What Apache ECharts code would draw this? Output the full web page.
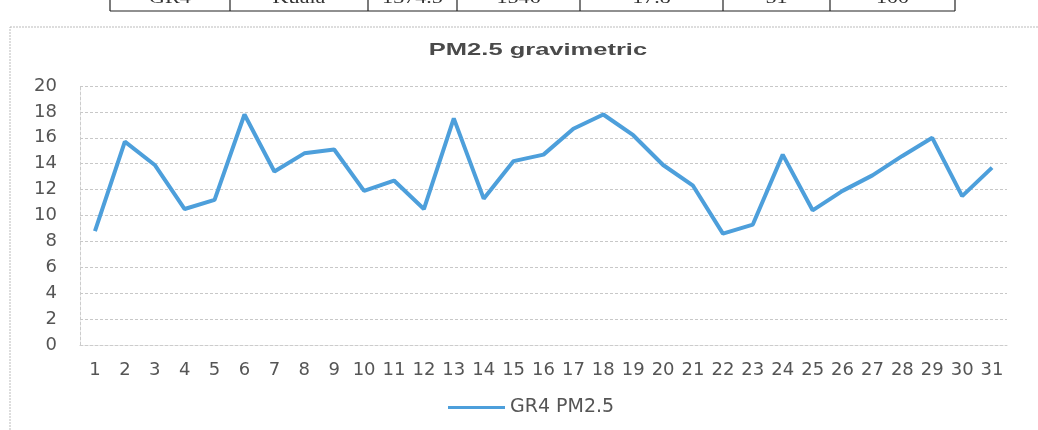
<!DOCTYPE html>
<html>
<head>
<meta charset="utf-8">
<script src="https://cdn.jsdelivr.net/npm/echarts@6/dist/echarts.min.js"></script>
<style>
  html, body { margin: 0; padding: 0; background: #fff; }
  #chart { width: 1038px; height: 430px; }
</style>
</head>
<body>
<div id="chart"></div>
<script>
// days of the month
const days = ['1', '2', '3', '4', '5', '6', '7', '8', '9', '10', '11', '12', '13', '14', '15', '16',
  '17', '18', '19', '20', '21', '22', '23', '24', '25', '26', '27', '28', '29', '30', '31']
// GR4 PM2.5 gravimetric values
const gr4 = [8.8, 15.7, 13.9, 10.5, 11.2, 17.8, 13.4, 14.8, 15.1, 11.9, 12.7, 10.5, 17.5, 11.3, 14.2, 14.7,
  16.7, 17.8, 16.2, 13.9, 12.3, 8.6, 9.3, 14.7, 10.4, 11.9, 13.1, 14.6, 16.0, 11.5, 13.7]
// cut-off table row above the chart
const tableCells = ['GR4', 'Kuala', '1374.5', '1546', '17.8', '51', '100']
const tableEdges = [110, 230, 368, 457, 580, 723, 830, 955]

const myChart = echarts.init(document.getElementById('chart'))

const tableGraphics = []
tableEdges.forEach(x => {
  tableGraphics.push({
    type: 'line',
    shape: { x1: x, y1: 0, x2: x, y2: 11 },
    style: { stroke: '#222', lineWidth: 1.2 }
  })
})
tableGraphics.push({
  type: 'line',
  shape: { x1: tableEdges[0], y1: 11, x2: tableEdges[tableEdges.length - 1], y2: 11 },
  style: { stroke: '#222', lineWidth: 1.2 }
})
tableCells.forEach((t, i) => {
  tableGraphics.push({
    type: 'text',
    x: (tableEdges[i] + tableEdges[i + 1]) / 2,
    y: -10,
    scaleX: 1.3,
    style: {
      text: t,
      font: '17px "Liberation Serif"',
      fill: '#333',
      align: 'center',
      verticalAlign: 'top'
    }
  })
})

myChart.setOption({
  backgroundColor: '#fff',
  animation: false,
  graphic: [
    {
      type: 'rect',
      shape: { x: 10, y: 27, width: 1040, height: 420 },
      style: { fill: 'none', stroke: '#bbb', lineWidth: 1, lineDash: [2, 1] }
    },
    {
      // chart title, stretched like the scan
      type: 'text',
      x: 538,
      y: 50,
      scaleX: 1.5,
      style: {
        text: 'PM2.5 gravimetric',
        font: 'bold 17px "Liberation Sans"',
        fill: '#4a4a4a',
        align: 'center',
        verticalAlign: 'middle'
      }
    }
  ].concat(tableGraphics),
  legend: {
    bottom: 8,
    left: 443,
    icon: 'rect',
    itemWidth: 57,
    itemHeight: 3,
    itemGap: 6,
    textStyle: {
      fontFamily: 'DejaVu Sans',
      fontSize: 19,
      color: '#555'
    },
    data: ['GR4 PM2.5']
  },
  grid: {
    left: 80,
    right: 31,
    top: 86,
    bottom: 85
  },
  xAxis: {
    type: 'category',
    data: days,
    boundaryGap: true,
    axisLine: { show: true, lineStyle: { color: '#ccc', type: [3, 2] } },
    axisTick: { show: false },
    axisLabel: {
      interval: 0,
      margin: 16,
      fontFamily: 'DejaVu Sans',
      fontSize: 18,
      color: '#555'
    }
  },
  yAxis: {
    type: 'value',
    min: 0,
    max: 20,
    interval: 2,
    axisLine: { show: true, lineStyle: { color: '#ccc', type: [3, 2] } },
    axisTick: { show: false },
    splitLine: { show: true, lineStyle: { color: '#c8c8c8', type: [3, 2] } },
    axisLabel: {
      margin: 23,
      fontFamily: 'DejaVu Sans',
      fontSize: 18,
      color: '#555'
    }
  },
  series: [{
    name: 'GR4 PM2.5',
    type: 'line',
    data: gr4,
    symbol: 'none',
    lineStyle: { width: 4, color: '#4d9fdb' },
    itemStyle: { color: '#4d9fdb' }
  }]
})
</script>
</body>
</html>
